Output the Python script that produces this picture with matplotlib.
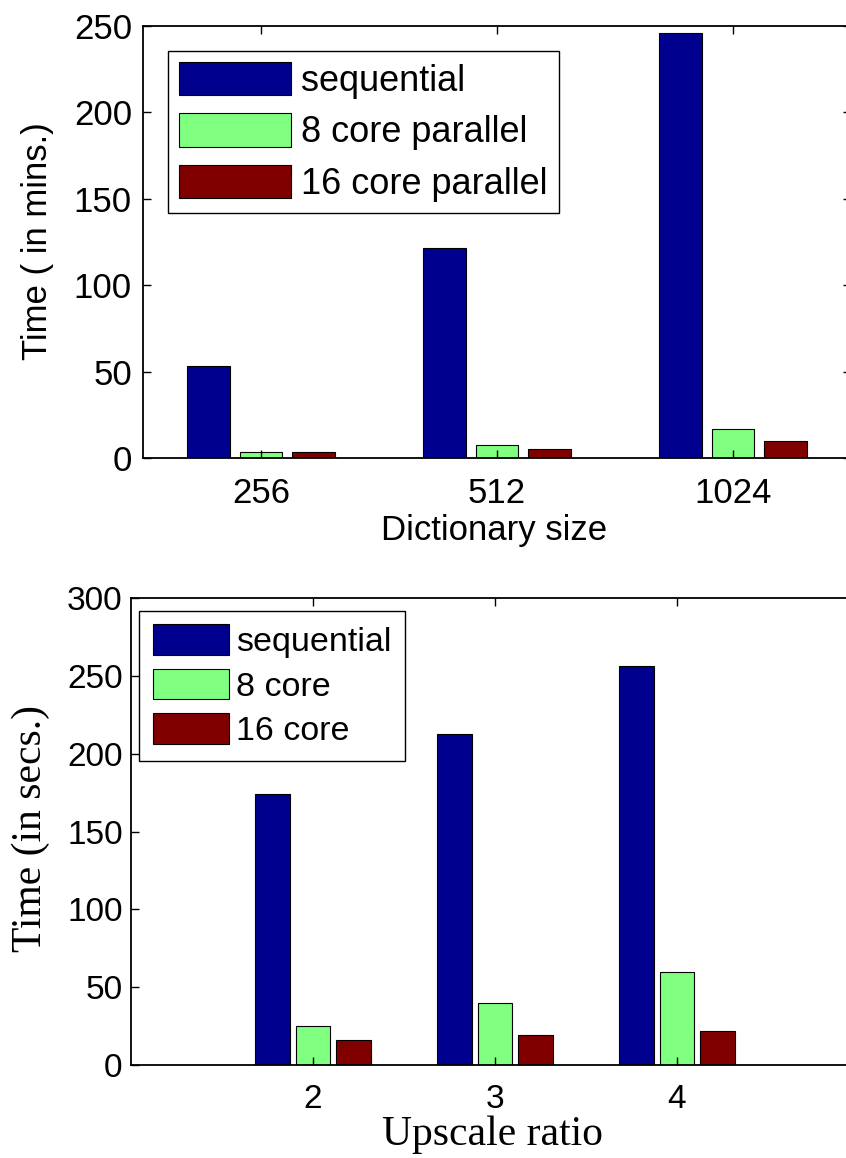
import numpy as np
import matplotlib
matplotlib.use("Agg")
import matplotlib.pyplot as plt

# --- Datos ---
dict_sizes = ['256', '512', '1024']
seq_mins = [53, 121.5, 246]
par8_mins = [3.5, 7.7, 17]
par16_mins = [3.2, 5.2, 9.8]

upscale = [2, 3, 4]
seq_secs = [174, 212.5, 256]
core8_secs = [25.3, 39.8, 60]
core16_secs = [16, 19.3, 21.7]

c_blue = '#00008F'
c_green = '#80FF80'
c_red = '#800000'

plt.rcParams['font.family'] = 'Liberation Sans'

fig = plt.figure(figsize=(8.46, 11.58), dpi=100)


def style_axes(ax, size, pad_x, pad_y):
    for s in ax.spines.values():
        s.set_linewidth(1.3)
    ax.tick_params(direction='in', length=6, width=1, top=True, right=True,
                   labelsize=size)
    ax.tick_params(axis='x', pad=pad_x)
    ax.tick_params(axis='y', pad=pad_y)


# --- Grafico superior ---
ax1 = fig.add_axes([143/846, 1-458/1158, 708/846, 432/1158])
x = np.arange(1, len(dict_sizes) + 1)
w1 = 0.182
off = 0.222
ax1.bar(x - off, seq_mins, w1, color=c_blue, edgecolor='black', linewidth=0.8, label='sequential')
ax1.bar(x, par8_mins, w1, color=c_green, edgecolor='black', linewidth=0.8, label='8 core parallel')
ax1.bar(x + off, par16_mins, w1, color=c_red, edgecolor='black', linewidth=0.8, label='16 core parallel')
ax1.set_xlim(0.5, 3.5)
ax1.set_ylim(0, 250)
ax1.set_xticks(x)
ax1.set_xticklabels(dict_sizes)
ax1.set_yticks(np.arange(0, 251, 50))
style_axes(ax1, 25, 14, 8)
leg1 = ax1.legend(loc='upper left', bbox_to_anchor=(0.035, 0.942), borderaxespad=0,
                  fontsize=26, handlelength=3.1, handleheight=1.05, labelspacing=0.4,
                  handletextpad=0.3, borderpad=0.3, fancybox=False, framealpha=1,
                  edgecolor='black')
leg1.get_frame().set_linewidth(1.0)
fig.text(494/846, 1-540/1158, 'Dictionary size', fontsize=25, ha='center', va='baseline')
fig.text(47/846, 1-241.5/1158, 'Time ( in mins.)', fontsize=25, rotation=90,
         rotation_mode='anchor', ha='center', va='baseline')

# --- Grafico inferior ---
ax2 = fig.add_axes([131/846, 1-1065/1158, 728/846, 467/1158])
xs = np.array(upscale)
w2 = 0.19
ax2.bar(xs - off, seq_secs, w2, color=c_blue, edgecolor='black', linewidth=0.8, label='sequential')
ax2.bar(xs, core8_secs, w2, color=c_green, edgecolor='black', linewidth=0.8, label='8 core')
ax2.bar(xs + off, core16_secs, w2, color=c_red, edgecolor='black', linewidth=0.8, label='16 core')
ax2.set_xlim(1, 5)
ax2.set_ylim(0, 300)
ax2.set_xticks(xs)
ax2.set_yticks(np.arange(0, 301, 50))
style_axes(ax2, 24, 14, 6)
leg2 = ax2.legend(loc='upper left', bbox_to_anchor=(0.011, 0.973), borderaxespad=0,
                  fontsize=24.5, handlelength=2.25, handleheight=1.0, labelspacing=0.31,
                  handletextpad=0.2, borderpad=0.4, fancybox=False, framealpha=1,
                  edgecolor='black')
leg2.get_frame().set_linewidth(1.0)
fig.text(492/846, 1-1145/1158, 'Upscale ratio', fontsize=30, family='Liberation Serif',
         ha='center', va='baseline')
fig.text(41/846, 1-829/1158, 'Time (in secs.)', fontsize=30, family='Liberation Serif',
         rotation=90, rotation_mode='anchor', ha='center', va='baseline')

fig.savefig('out.png', dpi=100)
